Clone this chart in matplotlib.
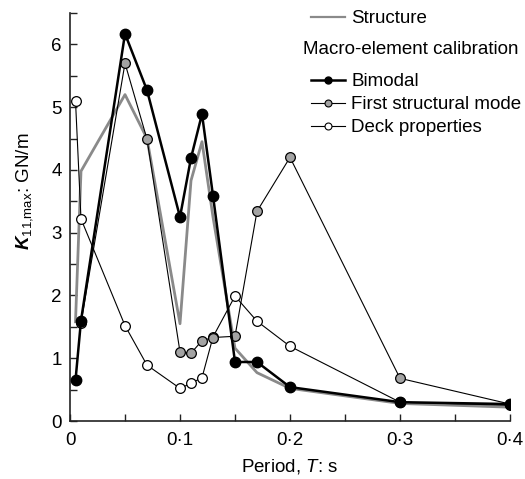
"""Peak horizontal stiffness against period for the structure and macro-element calibrations."""

import matplotlib
matplotlib.use("Agg")
import matplotlib.pyplot as plt
from matplotlib.lines import Line2D
from matplotlib.ticker import FuncFormatter, MultipleLocator

plt.rcParams["font.family"] = ["Liberation Sans", "DejaVu Sans"]
plt.rcParams["mathtext.fontset"] = "custom"
plt.rcParams["mathtext.rm"] = "Liberation Sans"
plt.rcParams["mathtext.it"] = "Liberation Sans:italic"
plt.rcParams["mathtext.bf"] = "Liberation Sans:bold"
plt.rcParams["mathtext.bfit"] = "Liberation Sans:bold:italic"

# Period T (s) and K11,max (GN/m) for each curve
structure_t = [0.005, 0.01, 0.05, 0.07, 0.10, 0.11, 0.12, 0.13, 0.15, 0.17, 0.20, 0.30, 0.40]
structure_k = [1.58, 3.98, 5.20, 4.50, 1.55, 3.83, 4.45, 3.25, 1.16, 0.77, 0.52, 0.28, 0.22]

bimodal_t = [0.005, 0.01, 0.05, 0.07, 0.10, 0.11, 0.12, 0.13, 0.15, 0.17, 0.20, 0.30, 0.40]
bimodal_k = [0.65, 1.60, 6.17, 5.27, 3.25, 4.19, 4.89, 3.59, 0.94, 0.94, 0.54, 0.30, 0.27]

first_mode_t = [0.01, 0.05, 0.07, 0.10, 0.11, 0.12, 0.13, 0.15, 0.17, 0.20, 0.30, 0.40]
first_mode_k = [1.56, 5.70, 4.49, 1.10, 1.08, 1.28, 1.33, 1.35, 3.34, 4.20, 0.68, 0.27]

deck_t = [0.005, 0.01, 0.05, 0.07, 0.10, 0.11, 0.12, 0.13, 0.15, 0.17, 0.20, 0.30, 0.40]
deck_k = [5.10, 3.22, 1.52, 0.89, 0.52, 0.60, 0.69, 1.34, 1.99, 1.59, 1.19, 0.30, 0.25]

GREY_LINE = "#8a8a8a"
GREY_FILL = "#a3a3a3"
FS = 13.5

fig = plt.figure(figsize=(5.25, 4.79), dpi=100)
ax = fig.add_axes([70 / 525, 58 / 479, 440 / 525, 408 / 479])

ax.plot(structure_t, structure_k, color=GREY_LINE, linewidth=2.0, zorder=2)
ax.plot(deck_t, deck_k, color="black", linewidth=0.8, marker="o", markersize=7,
        markerfacecolor="white", markeredgecolor="black", markeredgewidth=0.9, zorder=3)
ax.plot(first_mode_t, first_mode_k, color="black", linewidth=0.8, marker="o", markersize=7,
        markerfacecolor=GREY_FILL, markeredgecolor="black", markeredgewidth=0.9, zorder=4)
ax.plot(bimodal_t, bimodal_k, color="black", linewidth=1.8, marker="o", markersize=7.5,
        markerfacecolor="black", markeredgecolor="black", zorder=5)

ax.set_xlim(0, 0.4)
ax.set_ylim(0, 6.5)
ax.spines["top"].set_visible(False)
ax.spines["right"].set_visible(False)
for side in ("left", "bottom"):
    ax.spines[side].set_linewidth(1.2)
    ax.spines[side].set_color("#222222")

ax.xaxis.set_major_locator(MultipleLocator(0.1))
ax.xaxis.set_minor_locator(MultipleLocator(0.05))
ax.yaxis.set_major_locator(MultipleLocator(1))
ax.yaxis.set_minor_locator(MultipleLocator(0.5))
ax.tick_params(which="both", direction="in", width=1.0, color="#222222", labelsize=FS)
ax.tick_params(which="major", length=5, pad=6)
ax.tick_params(axis="x", which="major", pad=8)
ax.tick_params(which="minor", length=5)
ax.xaxis.set_major_formatter(FuncFormatter(lambda v, _: "0" if v == 0 else f"{v:.1f}".replace(".", "\u00b7")))
ax.yaxis.set_major_formatter(FuncFormatter(lambda v, _: f"{v:.0f}"))

ax.set_xlabel("Period, $\\it{T}$: s", fontsize=FS, labelpad=6)
ax.set_ylabel("$\\mathbfit{K}_{\\mathrm{11{,}max}}$: GN/m", fontsize=13.5)
ax.yaxis.set_label_coords(-0.08, 0.562)

structure_handle = Line2D([], [], color=GREY_LINE, linewidth=1.6)
leg1 = ax.legend([structure_handle], ["Structure"], loc="upper left",
                 bbox_to_anchor=(311 / 525, 1 - 10 / 479), bbox_transform=fig.transFigure,
                 frameon=False, fontsize=FS, handlelength=1.8, handletextpad=0.35,
                 borderpad=0, borderaxespad=0)
ax.add_artist(leg1)

fig.text(303 / 525, 1 - 50 / 479, "Macro-element calibration", fontsize=FS,
         ha="left", va="center")

calib_handles = [
    Line2D([], [], color="black", linewidth=1.8, marker="o", markersize=5,
           markerfacecolor="black"),
    Line2D([], [], color="black", linewidth=0.8, marker="o", markersize=5,
           markerfacecolor=GREY_FILL, markeredgewidth=0.8),
    Line2D([], [], color="black", linewidth=0.8, marker="o", markersize=5,
           markerfacecolor="white", markeredgewidth=0.8),
]
ax.legend(calib_handles, ["Bimodal", "First structural mode", "Deck properties"],
          loc="upper left", bbox_to_anchor=(311 / 525, 1 - 73 / 479),
          bbox_transform=fig.transFigure, frameon=False, fontsize=FS, handlelength=1.8,
          handletextpad=0.35, labelspacing=0.32, borderpad=0, borderaxespad=0)

fig.savefig("out.png", dpi=100)
